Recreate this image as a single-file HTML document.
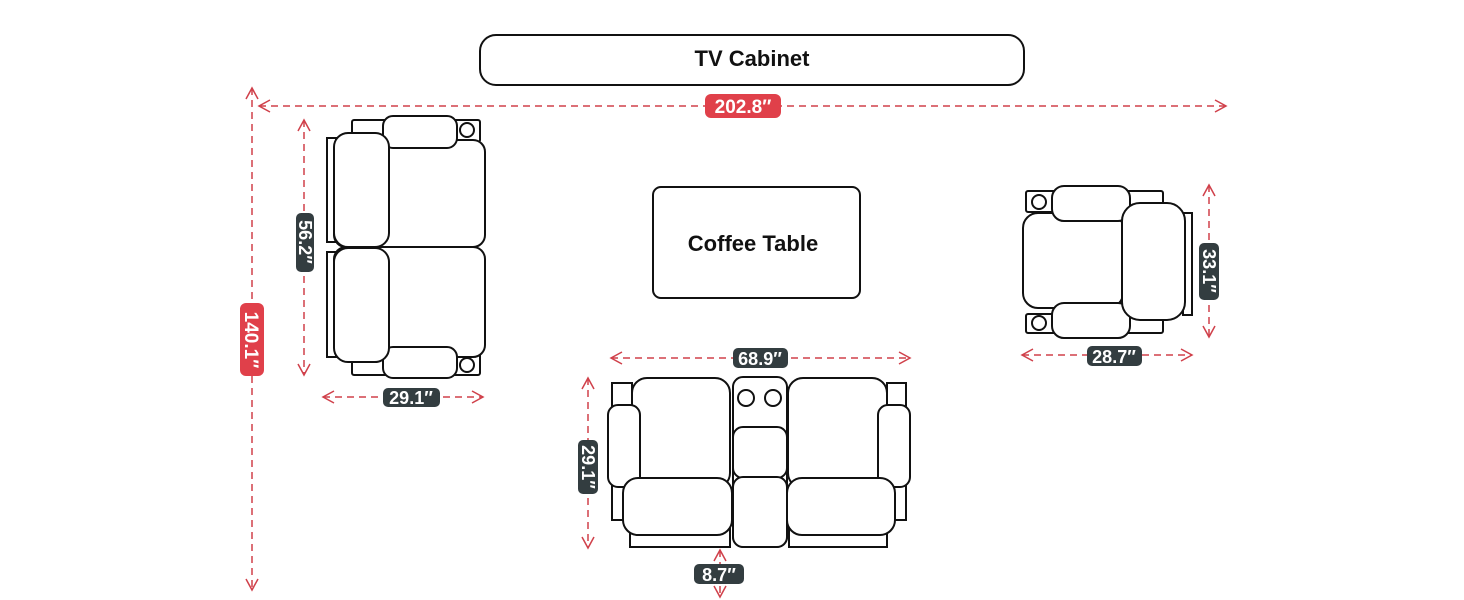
<!DOCTYPE html>
<html><head><style>body{margin:0;background:#fff}svg{display:block}text{font-family:"Liberation Sans",sans-serif;font-weight:bold}</style></head><body>
<svg width="1464" height="600" viewBox="0 0 1464 600" xmlns="http://www.w3.org/2000/svg">
<defs>
<marker id="a" markerWidth="14" markerHeight="14" refX="12" refY="7" orient="auto-start-reverse" markerUnits="userSpaceOnUse"><path d="M1,1 L12,7 L1,13" fill="none" stroke="#d0404a" stroke-width="1.5" stroke-dasharray="none"/></marker>
</defs>
<g fill="#fff" stroke="#111" stroke-width="2">
<rect x="480" y="35" width="544" height="50" rx="16"/>
<rect x="653" y="187" width="207" height="111" rx="8"/>
<!-- left sofa -->
<rect x="352" y="120" width="128" height="22" rx="2"/>
<rect x="352" y="352" width="128" height="23" rx="2"/>
<rect x="327" y="138" width="9" height="104"/>
<rect x="327" y="252" width="9" height="105"/>
<rect x="334" y="140" width="151" height="107" rx="12"/>
<rect x="334" y="247" width="151" height="110" rx="12"/>
<rect x="383" y="116" width="74" height="32" rx="10"/>
<rect x="383" y="347" width="74" height="31" rx="10"/>
<rect x="334" y="133" width="55" height="114" rx="14"/>
<rect x="334" y="248" width="55" height="114" rx="14"/>
<circle cx="467" cy="130" r="7"/><circle cx="467" cy="365" r="7"/>
<!-- bottom sofa -->
<rect x="612" y="383" width="20" height="137"/>
<rect x="887" y="383" width="19" height="137"/>
<rect x="630" y="520" width="100" height="27"/>
<rect x="789" y="520" width="98" height="27"/>
<rect x="632" y="378" width="98" height="110" rx="15"/>
<rect x="788" y="378" width="99" height="110" rx="15"/>
<rect x="608" y="405" width="32" height="82" rx="10"/>
<rect x="878" y="405" width="32" height="82" rx="10"/>
<rect x="733" y="377" width="54" height="170" rx="10"/>
<circle cx="746" cy="398" r="8"/><circle cx="773" cy="398" r="8"/>
<rect x="733" y="427" width="54" height="51" rx="10"/>
<rect x="733" y="477" width="54" height="70" rx="10"/>
<rect x="623" y="478" width="109" height="57" rx="15"/>
<rect x="787" y="478" width="108" height="57" rx="15"/>
<!-- right chair -->
<rect x="1026" y="191" width="137" height="21" rx="2"/>
<rect x="1026" y="314" width="137" height="19" rx="2"/>
<rect x="1183" y="213" width="9" height="102"/>
<rect x="1023" y="213" width="100" height="95" rx="15"/>
<rect x="1052" y="186" width="78" height="35" rx="12"/>
<rect x="1052" y="303" width="78" height="35" rx="12"/>
<rect x="1122" y="203" width="63" height="117" rx="18"/>
<circle cx="1039" cy="202" r="7"/><circle cx="1039" cy="323" r="7"/>
</g>
<text x="752" y="66" font-size="22" text-anchor="middle" fill="#111">TV Cabinet</text>
<text x="753" y="251" font-size="22" text-anchor="middle" fill="#111">Coffee Table</text>
<g stroke="#d0404a" stroke-width="1.5" stroke-dasharray="7,5" fill="none" marker-start="url(#a)" marker-end="url(#a)">
<line x1="259" y1="106" x2="1226" y2="106"/>
<line x1="252" y1="88" x2="252" y2="590"/>
<line x1="304" y1="120" x2="304" y2="375"/>
<line x1="323" y1="397" x2="483" y2="397"/>
<line x1="611" y1="358" x2="910" y2="358"/>
<line x1="588" y1="378" x2="588" y2="548"/>
<line x1="720" y1="550" x2="720" y2="597"/>
<line x1="1209" y1="185" x2="1209" y2="337"/>
<line x1="1022" y1="355" x2="1192" y2="355"/>
</g>
<g font-size="19" fill="#fff" text-anchor="middle">
<rect x="705" y="94" width="76" height="24" rx="6" fill="#e0404a"/><text x="743" y="113">202.8″</text>
<rect x="240" y="303" width="24" height="73" rx="6" fill="#e0404a"/><text transform="translate(245,340) rotate(90)">140.1″</text>
<rect x="296" y="213" width="18" height="59" rx="5" fill="#333d40"/><text font-size="18" transform="translate(299,242) rotate(90)">56.2″</text>
<rect x="383" y="388" width="57" height="19" rx="5" fill="#333d40"/><text font-size="18" x="411" y="404">29.1″</text>
<rect x="733" y="348" width="55" height="20" rx="5" fill="#333d40"/><text font-size="18" x="760" y="365">68.9″</text>
<rect x="578" y="440" width="20" height="54" rx="5" fill="#333d40"/><text font-size="18" transform="translate(582,467) rotate(90)">29.1″</text>
<rect x="694" y="564" width="50" height="20" rx="5" fill="#333d40"/><text font-size="18" x="719" y="581">8.7″</text>
<rect x="1199" y="243" width="20" height="57" rx="5" fill="#333d40"/><text font-size="18" transform="translate(1203,271) rotate(90)">33.1″</text>
<rect x="1087" y="346" width="55" height="20" rx="5" fill="#333d40"/><text font-size="18" x="1114" y="363">28.7″</text>
</g>
</svg>
</body></html>
